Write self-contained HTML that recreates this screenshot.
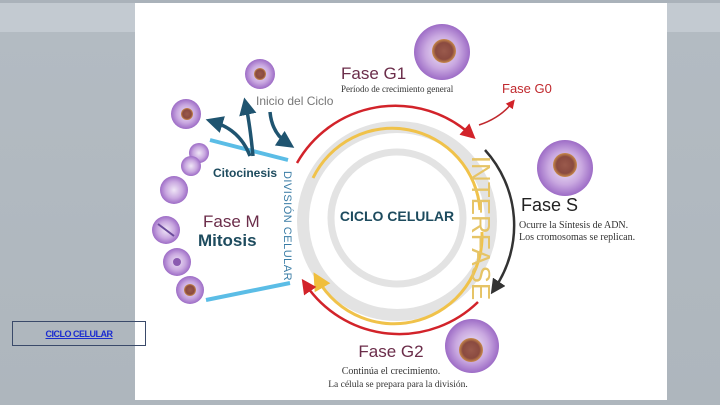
<!DOCTYPE html>
<html><head><meta charset="utf-8"><style>
html,body{margin:0;padding:0}
body{width:720px;height:405px;overflow:hidden;position:relative;font-family:"Liberation Sans",sans-serif;
background:linear-gradient(180deg,#aab2ba 0,#aab2ba 3px,#c3cad1 3px,#c3cad1 32px,#b3bbc2 32px,#aeb6bd 405px)}
.card{position:absolute;left:135px;top:3px;width:532px;height:397px;background:#fff}
.lnk{position:absolute;left:12px;top:321px;width:134px;height:25px;border:1px solid #3a4a6a;box-sizing:border-box;
font-size:9px;font-weight:bold;color:#1a2bd0;text-decoration:underline;text-align:center;line-height:25px;letter-spacing:-0.5px}
</style></head><body>
<div class="card"></div>
<svg width="720" height="405" style="position:absolute;left:0;top:0">
<defs>
<radialGradient id="cell" cx="50%" cy="50%" r="50%">
<stop offset="0" stop-color="#efe6f6"/><stop offset="0.6" stop-color="#c9a8e0"/><stop offset="1" stop-color="#9d6cc6"/>
</radialGradient>
<radialGradient id="nuc"><stop offset="0" stop-color="#9a5a4c"/><stop offset="0.7" stop-color="#8a4a40"/><stop offset="1" stop-color="#c98a4a"/></radialGradient>
<marker id="ar" markerWidth="6" markerHeight="6" refX="3" refY="3" orient="auto"><path d="M0,0 L6,3 L0,6 z" fill="#d2232a"/></marker>
<marker id="ak" markerWidth="6" markerHeight="6" refX="3" refY="3" orient="auto"><path d="M0,0 L6,3 L0,6 z" fill="#333"/></marker>
<marker id="ay" markerWidth="6" markerHeight="6" refX="3" refY="3" orient="auto"><path d="M0,0 L6,3 L0,6 z" fill="#f0be3c"/></marker>
<marker id="at" markerWidth="5" markerHeight="5" refX="2.5" refY="2.5" orient="auto"><path d="M0,0 L5,2.5 L0,5 z" fill="#1f5470"/></marker>
</defs>
<circle cx="397" cy="221" r="94" fill="none" stroke="#e3e3e3" stroke-width="12"/>
<circle cx="397" cy="218" r="66" fill="none" stroke="#e3e3e3" stroke-width="7"/>
<path d="M313,178 A88,88 0 0 1 480,210" fill="none" stroke="#f0c24a" stroke-width="3"/>
<path d="M482,232 A88,88 0 0 1 318,280" fill="none" stroke="#f0c24a" stroke-width="3" marker-end="url(#ay)"/>
<path d="M297,163 A113,113 0 0 1 470,134" fill="none" stroke="#d2232a" stroke-width="2.5" marker-end="url(#ar)"/>
<path d="M478,302 A113,113 0 0 1 306,285" fill="none" stroke="#d2232a" stroke-width="2.5" marker-end="url(#ar)"/>
<path d="M479,125 Q500,118 512,103" fill="none" stroke="#c0282d" stroke-width="1.5" marker-end="url(#ar)"/>
<path d="M485,150 A112,112 0 0 1 495,288" fill="none" stroke="#333" stroke-width="2.5" marker-end="url(#ak)"/>
<line x1="210" y1="140" x2="288" y2="160" stroke="#5bbde6" stroke-width="4"/>
<line x1="206" y1="300" x2="290" y2="283" stroke="#5bbde6" stroke-width="4"/>
<path d="M250,156 Q240,130 214,122" fill="none" stroke="#1f5470" stroke-width="3.5" marker-end="url(#at)"/>
<path d="M253,156 Q250,125 246,106" fill="none" stroke="#1f5470" stroke-width="3.5" marker-end="url(#at)"/>
<path d="M270,112 Q272,133 287,143" fill="none" stroke="#1f5470" stroke-width="3.5" marker-end="url(#at)"/>
<g>
<circle cx="442" cy="52" r="28" fill="url(#cell)"/><circle cx="444" cy="51" r="12" fill="url(#nuc)"/>
<circle cx="565" cy="168" r="28" fill="url(#cell)"/><circle cx="565" cy="165" r="12" fill="url(#nuc)"/>
<circle cx="472" cy="346" r="27" fill="url(#cell)"/><circle cx="471" cy="350" r="12" fill="url(#nuc)"/>
<circle cx="260" cy="74" r="15" fill="url(#cell)"/><circle cx="260" cy="74" r="6" fill="url(#nuc)"/>
<circle cx="186" cy="114" r="15" fill="url(#cell)"/><circle cx="187" cy="114" r="6" fill="url(#nuc)"/>
<circle cx="199" cy="153" r="10" fill="url(#cell)"/><circle cx="191" cy="166" r="10" fill="url(#cell)"/>
<circle cx="174" cy="190" r="14" fill="url(#cell)"/>
<circle cx="166" cy="230" r="14" fill="url(#cell)"/><line x1="158" y1="224" x2="174" y2="236" stroke="#6a4a9a" stroke-width="2"/>
<circle cx="177" cy="262" r="14" fill="url(#cell)"/><circle cx="177" cy="262" r="4" fill="#8a5ab0"/>
<circle cx="190" cy="290" r="14" fill="url(#cell)"/><circle cx="190" cy="290" r="6" fill="url(#nuc)"/>
</g>
<g font-family="Liberation Sans, sans-serif">
<text x="341" y="79" font-size="17" fill="#6b2d4a">Fase G1</text>
<text x="341" y="92" font-size="9" font-family="Liberation Serif, serif" fill="#333">Período de crecimiento general</text>
<text x="502" y="93" font-size="13" fill="#c0282d">Fase G0</text>
<text x="256" y="105" font-size="12" fill="#777">Inicio del Ciclo</text>
<text x="213" y="177" font-size="12" font-weight="bold" fill="#1d4b5e">Citocinesis</text>
<text x="203" y="227" font-size="17" fill="#6b2d4a">Fase M</text>
<text x="198" y="246" font-size="17" font-weight="bold" fill="#1d4b5e">Mitosis</text>
<text x="397" y="221" font-size="14" font-weight="bold" fill="#1d4b5e" text-anchor="middle">CICLO CELULAR</text>
<text x="521" y="211" font-size="18" fill="#222">Fase S</text>
<text x="519" y="228" font-size="10" font-family="Liberation Serif, serif" fill="#333">Ocurre la Síntesis de ADN.</text>
<text x="519" y="240" font-size="10" font-family="Liberation Serif, serif" fill="#333">Los cromosomas se replican.</text>
<text x="391" y="357" font-size="17" fill="#6b2d4a" text-anchor="middle">Fase G2</text>
<text x="391" y="374" font-size="10" font-family="Liberation Serif, serif" fill="#333" text-anchor="middle">Continúa el crecimiento.</text>
<text x="398" y="387" font-size="9.5" font-family="Liberation Serif, serif" fill="#333" text-anchor="middle">La célula se prepara para la división.</text>
<text transform="translate(284,226) rotate(90)" font-size="11" fill="#3a7ca5" text-anchor="middle" letter-spacing="0.5">DIVISIÓN CELULAR</text>
<text transform="translate(472,228) rotate(90)" font-size="26" fill="#e6c466" text-anchor="middle">INTERFASE</text>
</g>
</svg>
<div class="lnk">CICLO CELULAR</div>
</body></html>
